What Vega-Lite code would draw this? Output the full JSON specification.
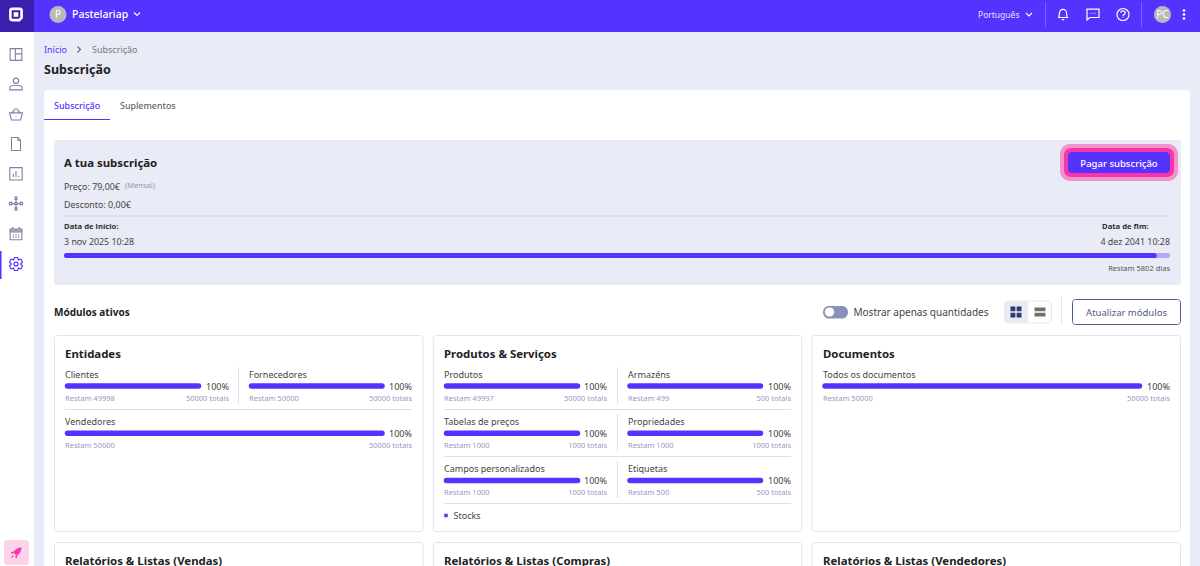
{"$schema":"https://vega.github.io/schema/vega-lite/v6.json","width":1200,"height":566,"padding":0,"autosize":"none","background":"#e9ebf7",
"config":{"view":{"stroke":null},"axis":{"disable":true},"legend":{"disable":true},"text":{"font":"Noto Sans","baseline":"middle","align":"left"}},
"resolve":{"scale":{"x":"independent","y":"independent","shape":"independent"}},
"datasets":{
"modules":[
{"card":"Entidades","col":0,"end":0,"row":1,"name":"Clientes","pct":1,"rem":"Restam 49998","tot":"50000 totais"},
{"card":"Entidades","col":1,"end":1,"row":1,"name":"Fornecedores","pct":1,"rem":"Restam 50000","tot":"50000 totais"},
{"card":"Entidades","col":0,"end":1,"row":2,"name":"Vendedores","pct":1,"rem":"Restam 50000","tot":"50000 totais"},
{"card":"Produtos & Serviços","col":2,"end":2,"row":1,"name":"Produtos","pct":1,"rem":"Restam 49997","tot":"50000 totais"},
{"card":"Produtos & Serviços","col":3,"end":3,"row":1,"name":"Armazéns","pct":1,"rem":"Restam 499","tot":"500 totais"},
{"card":"Produtos & Serviços","col":2,"end":2,"row":2,"name":"Tabelas de preços","pct":1,"rem":"Restam 1000","tot":"1000 totais"},
{"card":"Produtos & Serviços","col":3,"end":3,"row":2,"name":"Propriedades","pct":1,"rem":"Restam 1000","tot":"1000 totais"},
{"card":"Produtos & Serviços","col":2,"end":2,"row":3,"name":"Campos personalizados","pct":1,"rem":"Restam 1000","tot":"1000 totais"},
{"card":"Produtos & Serviços","col":3,"end":3,"row":3,"name":"Etiquetas","pct":1,"rem":"Restam 500","tot":"500 totais"},
{"card":"Documentos","col":4,"end":4,"row":1,"name":"Todos os documentos","pct":1,"rem":"Restam 50000","tot":"50000 totais"}],
"cards":[
{"title":"Entidades","slot":0,"tier":1},{"title":"Produtos & Serviços","slot":1,"tier":1},{"title":"Documentos","slot":2,"tier":1},
{"title":"Relatórios & Listas (Vendas)","slot":0,"tier":2},{"title":"Relatórios & Listas (Compras)","slot":1,"tier":2},{"title":"Relatórios & Listas (Vendedores)","slot":2,"tier":2}]
},
"layer":[
{"data":{"values":[{"part":"topbar"}]},"mark":{"type":"rect","color":"#5533ff"},"encoding":{"x":{"field":"part","type":"nominal","scale":{"range":[0,1200],"paddingInner":0,"paddingOuter":0}},"y":{"field":"part","type":"nominal","scale":{"range":[0,32],"paddingInner":0,"paddingOuter":0}}}},
{"data":{"values":[{"part":"logo"}]},"mark":{"type":"rect","color":"#3d1fb0"},"encoding":{"x":{"field":"part","type":"nominal","scale":{"range":[0,34],"paddingInner":0,"paddingOuter":0}},"y":{"field":"part","type":"nominal","scale":{"range":[0,32],"paddingInner":0,"paddingOuter":0}}}},
{"data":{"values":[{"part":"sidebar"}]},"mark":{"type":"rect","color":"#ffffff"},"encoding":{"x":{"field":"part","type":"nominal","scale":{"range":[0,34],"paddingInner":0,"paddingOuter":0}},"y":{"field":"part","type":"nominal","scale":{"range":[32,566],"paddingInner":0,"paddingOuter":0}}}},
{"data":{"values":[{"part":"active"}]},"mark":{"type":"rect","color":"#5533ff"},"encoding":{"x":{"field":"part","type":"nominal","scale":{"range":[0,1.5],"paddingInner":0,"paddingOuter":0}},"y":{"field":"part","type":"nominal","scale":{"range":[251,279],"paddingInner":0,"paddingOuter":0}}}},
{"data":{"values":[{"part":"rocket tile"}]},"mark":{"type":"rect","color":"#fbd3ea","cornerRadius":3},"encoding":{"x":{"field":"part","type":"nominal","scale":{"range":[4,29],"paddingInner":0,"paddingOuter":0}},"y":{"field":"part","type":"nominal","scale":{"range":[540,565],"paddingInner":0,"paddingOuter":0}}}},
{"data":{"values":[{"part":"content"}]},"mark":{"type":"rect","color":"#ffffff","cornerRadius":3},"encoding":{"x":{"field":"part","type":"nominal","scale":{"range":[44,1190],"paddingInner":0,"paddingOuter":0}},"y":{"field":"part","type":"nominal","scale":{"range":[90,580],"paddingInner":0,"paddingOuter":0}}}},
{"data":{"values":[{"part":"tab underline"}]},"mark":{"type":"rect","color":"#5533ff"},"encoding":{"x":{"field":"part","type":"nominal","scale":{"range":[44,110],"paddingInner":0,"paddingOuter":0}},"y":{"field":"part","type":"nominal","scale":{"range":[119,120],"paddingInner":0,"paddingOuter":0}}}},
{"data":{"values":[{"part":"subscription"}]},"mark":{"type":"rect","color":"#e9ebf7","cornerRadius":3},"encoding":{"x":{"field":"part","type":"nominal","scale":{"range":[54,1181],"paddingInner":0,"paddingOuter":0}},"y":{"field":"part","type":"nominal","scale":{"range":[140,285],"paddingInner":0,"paddingOuter":0}}}},
{"data":{"values":[{"part":"divider"}]},"mark":{"type":"rect","color":"#d2d5e6"},"encoding":{"x":{"field":"part","type":"nominal","scale":{"range":[64,1170],"paddingInner":0,"paddingOuter":0}},"y":{"field":"part","type":"nominal","scale":{"range":[215.5,216.5],"paddingInner":0,"paddingOuter":0}}}},
{"data":{"values":[{"part":"glow"}]},"mark":{"type":"rect","color":"#f492cd","cornerRadius":10},"encoding":{"x":{"field":"part","type":"nominal","scale":{"range":[1060,1178],"paddingInner":0,"paddingOuter":0}},"y":{"field":"part","type":"nominal","scale":{"range":[144,181],"paddingInner":0,"paddingOuter":0}}}},
{"data":{"values":[{"part":"ring"}]},"mark":{"type":"rect","color":"#f935a8","cornerRadius":7},"encoding":{"x":{"field":"part","type":"nominal","scale":{"range":[1064,1174],"paddingInner":0,"paddingOuter":0}},"y":{"field":"part","type":"nominal","scale":{"range":[148,177],"paddingInner":0,"paddingOuter":0}}}},
{"data":{"values":[{"part":"pay button"}]},"mark":{"type":"rect","color":"#5533ff","cornerRadius":4},"encoding":{"x":{"field":"part","type":"nominal","scale":{"range":[1068,1170],"paddingInner":0,"paddingOuter":0}},"y":{"field":"part","type":"nominal","scale":{"range":[152,173],"paddingInner":0,"paddingOuter":0}}}},
{"data":{"values":[{"part":"toggle"}]},"mark":{"type":"rect","color":"#8a90b8","cornerRadius":6},"encoding":{"x":{"field":"part","type":"nominal","scale":{"range":[823,848],"paddingInner":0,"paddingOuter":0}},"y":{"field":"part","type":"nominal","scale":{"range":[306,318.5],"paddingInner":0,"paddingOuter":0}}}},
{"data":{"values":[{"part":"view group"}]},"mark":{"type":"rect","color":"#ffffff","stroke":"#e6e7ef","cornerRadius":3},"encoding":{"x":{"field":"part","type":"nominal","scale":{"range":[1004.5,1051.5],"paddingInner":0,"paddingOuter":0}},"y":{"field":"part","type":"nominal","scale":{"range":[301,323],"paddingInner":0,"paddingOuter":0}}}},
{"data":{"values":[{"part":"view active"}]},"mark":{"type":"rect","color":"#e9ebf2","cornerRadius":2},"encoding":{"x":{"field":"part","type":"nominal","scale":{"range":[1005,1028],"paddingInner":0,"paddingOuter":0}},"y":{"field":"part","type":"nominal","scale":{"range":[301.5,322.5],"paddingInner":0,"paddingOuter":0}}}},
{"data":{"values":[{"part":"update button"}]},"mark":{"type":"rect","color":"#ffffff","stroke":"#4f5b93","strokeWidth":1,"cornerRadius":3},"encoding":{"x":{"field":"part","type":"nominal","scale":{"range":[1072.5,1180.5],"paddingInner":0,"paddingOuter":0}},"y":{"field":"part","type":"nominal","scale":{"range":[299.5,324.5],"paddingInner":0,"paddingOuter":0}}}},
{"data":{"name":"cards"},"transform":[{"filter":"datum.tier==1"}],"mark":{"type":"rect","color":"#ffffff","stroke":"#e3e4ee","strokeWidth":1,"cornerRadius":3},"encoding":{"x":{"field":"slot","type":"ordinal","scale":{"range":[54.5,1180.5],"paddingInner":0.0272,"paddingOuter":0}},"y":{"field":"tier","type":"ordinal","scale":{"range":[335.5,531.5],"paddingInner":0,"paddingOuter":0}}}},
{"data":{"name":"cards"},"transform":[{"filter":"datum.tier==2"}],"mark":{"type":"rect","color":"#ffffff","stroke":"#e3e4ee","strokeWidth":1,"cornerRadius":3},"encoding":{"x":{"field":"slot","type":"ordinal","scale":{"range":[54.5,1180.5],"paddingInner":0.0272,"paddingOuter":0}},"y":{"field":"tier","type":"ordinal","scale":{"range":[542.5,600],"paddingInner":0,"paddingOuter":0}}}},
{"data":{"name":"cards"},"mark":{"type":"text","fontSize":11.4,"fontWeight":"bold","color":"#222222"},"encoding":{"x":{"field":"slot","type":"quantitative","scale":{"domain":[0,2],"range":[65,823]}},"y":{"field":"tier","type":"quantitative","scale":{"domain":[1,2],"range":[354.5,561.5]}},"text":{"field":"title","type":"nominal"}}},
{"data":{"values":[{"from":0,"to":1,"after":1},{"from":2,"to":3,"after":1},{"from":2,"to":3,"after":2},{"from":2,"to":3,"after":3}]},"mark":{"type":"rule","color":"#dcdeea","strokeWidth":1},"encoding":{"x":{"field":"from","type":"quantitative","scale":{"domain":[0,1,2,3],"range":[65,412,444,791]}},"x2":{"field":"to"},"y":{"field":"after","type":"quantitative","scale":{"domain":[1,3],"range":[409.5,503.5]}}}},
{"data":{"values":[{"col":0,"row":1},{"col":1,"row":1},{"col":1,"row":2},{"col":1,"row":3}]},"mark":{"type":"point","shape":"M0,-1V1","filled":false,"stroke":"#dcdeea","strokeWidth":1,"size":1369,"opacity":1},"encoding":{"x":{"field":"col","type":"quantitative","scale":{"domain":[0,1],"range":[238.5,617.5]}},"y":{"field":"row","type":"quantitative","scale":{"domain":[1,3],"range":[385.5,479.5]}}}},
{"data":{"values":[{"i":0},{"i":1}]},"mark":{"type":"point","shape":"M0,-1V1","filled":false,"stroke":"#7a63ff","strokeWidth":1,"size":625,"opacity":1},"encoding":{"x":{"field":"i","type":"quantitative","scale":{"domain":[0,1],"range":[1045.5,1141.5]}},"y":{"field":"i","type":"quantitative","scale":{"domain":[0,1],"range":[14.5,14.5]}}}},
{"data":{"values":[{"i":0}]},"mark":{"type":"point","shape":"M0,-1V1","filled":false,"stroke":"#e3e4ee","strokeWidth":1,"size":784,"opacity":1},"encoding":{"x":{"field":"i","type":"quantitative","scale":{"domain":[0,1],"range":[1061.5,1062.5]}},"y":{"field":"i","type":"quantitative","scale":{"domain":[0,1],"range":[311,312]}}}},
{"data":{"values":[{"bar":"Período","pct":1}]},"mark":{"type":"rule","color":"#b6a6fb","strokeWidth":5,"strokeCap":"round"},"encoding":{"x":{"field":"pct","type":"quantitative","scale":{"domain":[0,1],"range":[66.5,1167.5]}},"x2":{"datum":0},"y":{"field":"bar","type":"nominal","scale":{"type":"point","range":[255.5,255.5]}}}},
{"data":{"values":[{"bar":"Período","pct":0.988}]},"mark":{"type":"rule","color":"#5533ff","strokeWidth":5,"strokeCap":"round"},"encoding":{"x":{"field":"pct","type":"quantitative","scale":{"domain":[0,1],"range":[66.5,1167.5]}},"x2":{"datum":0},"y":{"field":"bar","type":"nominal","scale":{"type":"point","range":[255.5,255.5]}}}},
{"data":{"name":"modules"},"transform":[{"filter":"datum.col==0 && datum.end==0"}],"mark":{"type":"rule","color":"#5533ff","strokeWidth":5.5,"strokeCap":"round"},"encoding":{"x":{"field":"pct","type":"quantitative","scale":{"domain":[0,1],"range":[67.5,198.5]}},"x2":{"datum":0},"y":{"field":"row","type":"quantitative","scale":{"domain":[1,3],"range":[386,480.5]}}}},
{"data":{"name":"modules"},"transform":[{"filter":"datum.col==1"}],"mark":{"type":"rule","color":"#5533ff","strokeWidth":5.5,"strokeCap":"round"},"encoding":{"x":{"field":"pct","type":"quantitative","scale":{"domain":[0,1],"range":[251.5,382]}},"x2":{"datum":0},"y":{"field":"row","type":"quantitative","scale":{"domain":[1,3],"range":[386,480.5]}}}},
{"data":{"name":"modules"},"transform":[{"filter":"datum.col==0 && datum.end==1"}],"mark":{"type":"rule","color":"#5533ff","strokeWidth":5.5,"strokeCap":"round"},"encoding":{"x":{"field":"pct","type":"quantitative","scale":{"domain":[0,1],"range":[67.5,382]}},"x2":{"datum":0},"y":{"field":"row","type":"quantitative","scale":{"domain":[1,3],"range":[386,480.5]}}}},
{"data":{"name":"modules"},"transform":[{"filter":"datum.col==2"}],"mark":{"type":"rule","color":"#5533ff","strokeWidth":5.5,"strokeCap":"round"},"encoding":{"x":{"field":"pct","type":"quantitative","scale":{"domain":[0,1],"range":[446.5,577.5]}},"x2":{"datum":0},"y":{"field":"row","type":"quantitative","scale":{"domain":[1,3],"range":[386,480.5]}}}},
{"data":{"name":"modules"},"transform":[{"filter":"datum.col==3"}],"mark":{"type":"rule","color":"#5533ff","strokeWidth":5.5,"strokeCap":"round"},"encoding":{"x":{"field":"pct","type":"quantitative","scale":{"domain":[0,1],"range":[630,760.5]}},"x2":{"datum":0},"y":{"field":"row","type":"quantitative","scale":{"domain":[1,3],"range":[386,480.5]}}}},
{"data":{"name":"modules"},"transform":[{"filter":"datum.col==4"}],"mark":{"type":"rule","color":"#5533ff","strokeWidth":5.5,"strokeCap":"round"},"encoding":{"x":{"field":"pct","type":"quantitative","scale":{"domain":[0,1],"range":[825,1139.5]}},"x2":{"datum":0},"y":{"field":"row","type":"quantitative","scale":{"domain":[1,3],"range":[386,480.5]}}}},
{"data":{"name":"modules"},"mark":{"type":"text","fontSize":9,"color":"#444444"},"encoding":{"x":{"field":"col","type":"quantitative","scale":{"domain":[0,1,2,3,4],"range":[65,249,444,628,823]}},"y":{"field":"row","type":"quantitative","scale":{"domain":[1,3],"range":[374.5,468.5]}},"text":{"field":"name","type":"nominal"}}},
{"data":{"name":"modules"},"mark":{"type":"text","fontSize":7.5,"color":"#949bbf"},"encoding":{"x":{"field":"col","type":"quantitative","scale":{"domain":[0,1,2,3,4],"range":[65,249,444,628,823]}},"y":{"field":"row","type":"quantitative","scale":{"domain":[1,3],"range":[398.5,492.5]}},"text":{"field":"rem","type":"nominal"}}},
{"data":{"name":"modules"},"mark":{"type":"text","fontSize":7.5,"align":"right","color":"#949bbf"},"encoding":{"x":{"field":"end","type":"quantitative","scale":{"domain":[0,1,2,3,4],"range":[229,412,607,791,1170]}},"y":{"field":"row","type":"quantitative","scale":{"domain":[1,3],"range":[398.5,492.5]}},"text":{"field":"tot","type":"nominal"}}},
{"data":{"name":"modules"},"mark":{"type":"text","fontSize":9,"align":"right","color":"#444444"},"encoding":{"x":{"field":"end","type":"quantitative","scale":{"domain":[0,1,2,3,4],"range":[229,412,607,791,1170]}},"y":{"field":"row","type":"quantitative","scale":{"domain":[1,3],"range":[386.5,481]}},"text":{"field":"pct","type":"quantitative","format":".0%"}}},
{"data":{"values":[{"i":0,"icon":"layout"},{"i":1,"icon":"person"},{"i":2,"icon":"basket"},{"i":3,"icon":"doc"},{"i":4,"icon":"report"},{"i":5,"icon":"nodes"},{"i":6,"icon":"calendar"}]},"mark":{"type":"point","filled":false,"stroke":"#7b83a6","strokeWidth":1.1,"size":169,"opacity":1},"encoding":{"x":{"field":"i","type":"quantitative","scale":{"domain":[0,6],"range":[16,16]}},"y":{"field":"i","type":"quantitative","scale":{"domain":[0,6],"range":[54.5,233.5]}},"shape":{"field":"icon","type":"nominal","scale":{"domain":["layout","person","basket","doc","report","nodes","calendar"],"range":["M-.9,-.9H.9V.9H-.9ZM-.1,-.9V.9M-.1,-.1H.9","M-.4,-.55A.4,.4 0 1 1 .4,-.55A.4,.4 0 1 1 -.4,-.55ZM-.95,.85V.45C-.95,.05 .95,.05 .95,.45V.85Z","M-1,-.2H1L.7,.9H-.7ZM-.6,-.2L-.1,-.9M.6,-.2L.1,-.9M-.05,.35H.05","M-.7,-1H.3L.7,-.55V1H-.7ZM.3,-1V-.55H.7","M-.95,-.95H.95V.95H-.95ZM-.4,.5V0M0,.5V-.45M.4,.5V.3","M-.15,-1H.15V-.65H-.15ZM-.15,-.2H.15V.15H-.15ZM-1,-.2H-.65V.15H-1ZM.65,-.2H1V.15H.65ZM-.15,.65H.15V1H-.15ZM0,-.65V-.2M0,.15V.65M-.65,0H-.15M.15,0H.65","M-.9,-.7H.9V.95H-.9ZM-.9,-.7H.9V-.25H-.9ZM-.9,-.5H.9M-.5,-1V-.7M.5,-1V-.7M-.5,.2H-.3M-.1,.2H.1M.3,.2H.5M-.5,.55H-.3M-.1,.55H.1M.3,.55H.5"]}}}},
{"data":{"values":[{"icon":"settings"}]},"mark":{"type":"point","filled":false,"shape":"M-.25,-1H.25L.35,-.65L.75,-.75L1,-.3L.7,0L1,.3L.75,.75L.35,.65L.25,1H-.25L-.35,.65L-.75,.75L-1,.3L-.7,0L-1,-.3L-.75,-.75L-.35,-.65ZM-.3,0A.3,.3 0 1 1 .3,0A.3,.3 0 1 1 -.3,0Z","stroke":"#5533ff","strokeWidth":1.2,"size":169,"opacity":1},"encoding":{"x":{"field":"icon","type":"nominal","scale":{"type":"point","range":[16,16]}},"y":{"field":"icon","type":"nominal","scale":{"type":"point","range":[264,264]}}}},
{"data":{"values":[{"icon":"launch"}]},"mark":{"type":"point","filled":true,"shape":"M1,-1C.4,-1 -.2,-.7 -.5,-.1L.1,.5C.7,.2 1,-.4 1,-1ZM-.45,-.3L-1,-.1L-.6,.2ZM.3,.45L.1,1L-.2,.6ZM-.6,.4L-1,1L-.4,.6Z","color":"#f935a8","size":121,"opacity":1},"encoding":{"x":{"field":"icon","type":"nominal","scale":{"type":"point","range":[16,16]}},"y":{"field":"icon","type":"nominal","scale":{"type":"point","range":[553,553]}}}},
{"data":{"values":[{"icon":"logo"}]},"mark":{"type":"point","filled":false,"shape":"M-.55,-.8H.55C.7,-.8 .8,-.7 .8,-.55V.45L.45,.8H-.55C-.7,.8 -.8,.7 -.8,.55V-.55C-.8,-.7 -.7,-.8 -.55,-.8ZM-.15,-.15H.15V.15H-.15Z","stroke":"#ffffff","strokeWidth":2.6,"size":196,"opacity":1},"encoding":{"x":{"field":"icon","type":"nominal","scale":{"type":"point","range":[16,16]}},"y":{"field":"icon","type":"nominal","scale":{"type":"point","range":[14.5,14.5]}}}},
{"data":{"values":[{"i":0,"icon":"bell"},{"i":1,"icon":"chat"},{"i":2,"icon":"help"}]},"mark":{"type":"point","filled":false,"stroke":"#ffffff","strokeWidth":1.2,"size":144,"opacity":1},"encoding":{"x":{"field":"i","type":"quantitative","scale":{"domain":[0,2],"range":[1063,1123]}},"y":{"field":"i","type":"quantitative","scale":{"domain":[0,2],"range":[14.5,14.5]}},"shape":{"field":"icon","type":"nominal","scale":{"domain":["bell","chat","help"],"range":["M-.7,.5C-.6,.2 -.6,-.1 -.6,-.2C-.6,-.6 -.3,-.85 0,-.85C.3,-.85 .6,-.6 .6,-.2C.6,-.1 .6,.2 .7,.5ZM-.85,.5H.85M-.2,.85H.2","M-1,-.9H1V.5H-.5L-1,.9ZM-.4,-.2H-.3M-.05,-.2H.05M.3,-.2H.4","M-1,0A1,1 0 1 1 1,0A1,1 0 1 1 -1,0ZM-.35,-.3C-.35,-.7 .35,-.7 .35,-.3C.35,0 0,0 0,.3M0,.5V.6"]}}}},
{"data":{"values":[{"i":0},{"i":1}]},"mark":{"type":"point","filled":false,"shape":"M-1,-.5L0,.5L1,-.5","stroke":"#ffffff","strokeWidth":1.1,"size":36,"opacity":1},"encoding":{"x":{"field":"i","type":"quantitative","scale":{"domain":[0,1],"range":[137,1029]}},"y":{"field":"i","type":"quantitative","scale":{"domain":[0,1],"range":[14,14.5]}}}},
{"data":{"values":[{"i":0}]},"mark":{"type":"point","filled":false,"shape":"M-.5,-1L.5,0L-.5,1","stroke":"#666666","strokeWidth":1.1,"size":36,"opacity":1},"encoding":{"x":{"field":"i","type":"quantitative","scale":{"domain":[0,1],"range":[79,80]}},"y":{"field":"i","type":"quantitative","scale":{"domain":[0,1],"range":[49.5,50.5]}}}},
{"data":{"values":[{"i":0},{"i":1},{"i":2}]},"mark":{"type":"circle","color":"#ffffff","size":7,"opacity":1},"encoding":{"x":{"field":"i","type":"quantitative","scale":{"domain":[0,2],"range":[1184,1184]}},"y":{"field":"i","type":"quantitative","scale":{"domain":[0,2],"range":[10.5,18.5]}}}},
{"data":{"values":[{"i":0},{"i":1}]},"mark":{"type":"circle","color":"#b9b9b9","size":290,"opacity":1},"encoding":{"x":{"field":"i","type":"quantitative","scale":{"domain":[0,1],"range":[58,1162.5]}},"y":{"field":"i","type":"quantitative","scale":{"domain":[0,1],"range":[14.5,14.5]}}}},
{"data":{"values":[{"i":0}]},"mark":{"type":"circle","color":"#ffffff","stroke":"#8a90b8","strokeWidth":0.5,"size":95,"opacity":1},"encoding":{"x":{"field":"i","type":"quantitative","scale":{"domain":[0,1],"range":[829.5,830.5]}},"y":{"field":"i","type":"quantitative","scale":{"domain":[0,1],"range":[312,313]}}}},
{"data":{"values":[{"i":0}]},"mark":{"type":"point","filled":true,"shape":"M-1,-1H-.12V-.12H-1ZM.12,-1H1V-.12H.12ZM-1,.12H-.12V1H-1ZM.12,.12H1V1H.12Z","color":"#2e3a78","size":121,"opacity":1},"encoding":{"x":{"field":"i","type":"quantitative","scale":{"domain":[0,1],"range":[1016,1017]}},"y":{"field":"i","type":"quantitative","scale":{"domain":[0,1],"range":[312,313]}}}},
{"data":{"values":[{"i":0}]},"mark":{"type":"point","filled":true,"shape":"M-1,-.8H1V-.12H-1ZM-1,.12H1V.8H-1Z","color":"#6f6f6f","size":121,"opacity":1},"encoding":{"x":{"field":"i","type":"quantitative","scale":{"domain":[0,1],"range":[1040,1041]}},"y":{"field":"i","type":"quantitative","scale":{"domain":[0,1],"range":[312,313]}}}},
{"data":{"values":[{"i":0}]},"mark":{"type":"square","color":"#5533ff","size":12,"opacity":1},"encoding":{"x":{"field":"i","type":"quantitative","scale":{"domain":[0,1],"range":[446,447]}},"y":{"field":"i","type":"quantitative","scale":{"domain":[0,1],"range":[515.5,516.5]}}}},
{"data":{"values":[{"label":"Pastelariap"}]},"mark":{"type":"text","fontSize":10.5,"fontWeight":500,"color":"#ffffff"},"encoding":{"x":{"field":"label","type":"nominal","scale":{"type":"point","range":[72,72]}},"y":{"field":"label","type":"nominal","scale":{"type":"point","range":[15,15]}},"text":{"field":"label","type":"nominal"}}},
{"data":{"values":[{"label":"P","i":0},{"label":"PC","i":1}]},"mark":{"type":"text","fontSize":10,"align":"center","color":"#ffffff"},"encoding":{"x":{"field":"i","type":"quantitative","scale":{"domain":[0,1],"range":[58,1162.5]}},"y":{"field":"i","type":"quantitative","scale":{"domain":[0,1],"range":[15,15]}},"text":{"field":"label","type":"nominal"}}},
{"data":{"values":[{"label":"Português"}]},"mark":{"type":"text","fontSize":8.5,"color":"#e6e1ff"},"encoding":{"x":{"field":"label","type":"nominal","scale":{"type":"point","range":[978,978]}},"y":{"field":"label","type":"nominal","scale":{"type":"point","range":[15,15]}},"text":{"field":"label","type":"nominal"}}},
{"data":{"values":[{"label":"Início"}]},"mark":{"type":"text","fontSize":9,"color":"#5533ff"},"encoding":{"x":{"field":"label","type":"nominal","scale":{"type":"point","range":[44,44]}},"y":{"field":"label","type":"nominal","scale":{"type":"point","range":[49.5,49.5]}},"text":{"field":"label","type":"nominal"}}},
{"data":{"values":[{"label":"Subscrição"}]},"mark":{"type":"text","fontSize":9,"color":"#777777"},"encoding":{"x":{"field":"label","type":"nominal","scale":{"type":"point","range":[92,92]}},"y":{"field":"label","type":"nominal","scale":{"type":"point","range":[49.5,49.5]}},"text":{"field":"label","type":"nominal"}}},
{"data":{"values":[{"label":"Subscrição"}]},"mark":{"type":"text","fontSize":12.5,"fontWeight":"bold","color":"#222222"},"encoding":{"x":{"field":"label","type":"nominal","scale":{"type":"point","range":[44,44]}},"y":{"field":"label","type":"nominal","scale":{"type":"point","range":[70,70]}},"text":{"field":"label","type":"nominal"}}},
{"data":{"values":[{"label":"Subscrição"}]},"mark":{"type":"text","fontSize":9,"fontWeight":500,"color":"#5533ff"},"encoding":{"x":{"field":"label","type":"nominal","scale":{"type":"point","range":[54,54]}},"y":{"field":"label","type":"nominal","scale":{"type":"point","range":[105.5,105.5]}},"text":{"field":"label","type":"nominal"}}},
{"data":{"values":[{"label":"Suplementos"}]},"mark":{"type":"text","fontSize":8.9,"fontWeight":500,"color":"#666666"},"encoding":{"x":{"field":"label","type":"nominal","scale":{"type":"point","range":[120,120]}},"y":{"field":"label","type":"nominal","scale":{"type":"point","range":[105.5,105.5]}},"text":{"field":"label","type":"nominal"}}},
{"data":{"values":[{"label":"A tua subscrição"}]},"mark":{"type":"text","fontSize":11.4,"fontWeight":"bold","color":"#222222"},"encoding":{"x":{"field":"label","type":"nominal","scale":{"type":"point","range":[64,64]}},"y":{"field":"label","type":"nominal","scale":{"type":"point","range":[163.5,163.5]}},"text":{"field":"label","type":"nominal"}}},
{"data":{"values":[{"label":"Preço: 79,00€","i":0},{"label":"Desconto: 0,00€","i":1},{"label":"3 nov 2025 10:28","i":2}]},"mark":{"type":"text","fontSize":8.9,"color":"#444444"},"encoding":{"x":{"field":"i","type":"quantitative","scale":{"domain":[0,2],"range":[64,64]}},"y":{"field":"i","type":"quantitative","scale":{"domain":[0,1,2],"range":[186.5,204.5,241.5]}},"text":{"field":"label","type":"nominal"}}},
{"data":{"values":[{"label":"(Mensal)"}]},"mark":{"type":"text","fontSize":7.5,"color":"#8d96bd"},"encoding":{"x":{"field":"label","type":"nominal","scale":{"type":"point","range":[125,125]}},"y":{"field":"label","type":"nominal","scale":{"type":"point","range":[186,186]}},"text":{"field":"label","type":"nominal"}}},
{"data":{"values":[{"label":"Data de início:","i":0},{"label":"Data de fim:","i":1}]},"mark":{"type":"text","fontSize":7.7,"fontWeight":"bold","color":"#333333"},"encoding":{"x":{"field":"i","type":"quantitative","scale":{"domain":[0,1],"range":[64,1102]}},"y":{"field":"i","type":"quantitative","scale":{"domain":[0,1],"range":[227,227]}},"text":{"field":"label","type":"nominal"}}},
{"data":{"values":[{"label":"4 dez 2041 10:28"}]},"mark":{"type":"text","fontSize":8.9,"align":"right","color":"#444444"},"encoding":{"x":{"field":"label","type":"nominal","scale":{"type":"point","range":[1170,1170]}},"y":{"field":"label","type":"nominal","scale":{"type":"point","range":[241.5,241.5]}},"text":{"field":"label","type":"nominal"}}},
{"data":{"values":[{"label":"Restam 5802 dias"}]},"mark":{"type":"text","fontSize":7.5,"align":"right","color":"#555555"},"encoding":{"x":{"field":"label","type":"nominal","scale":{"type":"point","range":[1170,1170]}},"y":{"field":"label","type":"nominal","scale":{"type":"point","range":[268.5,268.5]}},"text":{"field":"label","type":"nominal"}}},
{"data":{"values":[{"label":"Pagar subscrição"}]},"mark":{"type":"text","fontSize":9.5,"fontWeight":500,"align":"center","color":"#ffffff"},"encoding":{"x":{"field":"label","type":"nominal","scale":{"type":"point","range":[1119,1119]}},"y":{"field":"label","type":"nominal","scale":{"type":"point","range":[163.5,163.5]}},"text":{"field":"label","type":"nominal"}}},
{"data":{"values":[{"label":"Módulos ativos"}]},"mark":{"type":"text","fontSize":10,"fontWeight":"bold","color":"#222222"},"encoding":{"x":{"field":"label","type":"nominal","scale":{"type":"point","range":[54,54]}},"y":{"field":"label","type":"nominal","scale":{"type":"point","range":[312.5,312.5]}},"text":{"field":"label","type":"nominal"}}},
{"data":{"values":[{"label":"Mostrar apenas quantidades"}]},"mark":{"type":"text","fontSize":10,"color":"#444444"},"encoding":{"x":{"field":"label","type":"nominal","scale":{"type":"point","range":[853.5,853.5]}},"y":{"field":"label","type":"nominal","scale":{"type":"point","range":[312.5,312.5]}},"text":{"field":"label","type":"nominal"}}},
{"data":{"values":[{"label":"Atualizar módulos"}]},"mark":{"type":"text","fontSize":9.5,"align":"center","color":"#4f5b7a"},"encoding":{"x":{"field":"label","type":"nominal","scale":{"type":"point","range":[1126.5,1126.5]}},"y":{"field":"label","type":"nominal","scale":{"type":"point","range":[312.5,312.5]}},"text":{"field":"label","type":"nominal"}}},
{"data":{"values":[{"label":"Stocks"}]},"mark":{"type":"text","fontSize":9,"color":"#444444"},"encoding":{"x":{"field":"label","type":"nominal","scale":{"type":"point","range":[453.5,453.5]}},"y":{"field":"label","type":"nominal","scale":{"type":"point","range":[516,516]}},"text":{"field":"label","type":"nominal"}}}
]}
